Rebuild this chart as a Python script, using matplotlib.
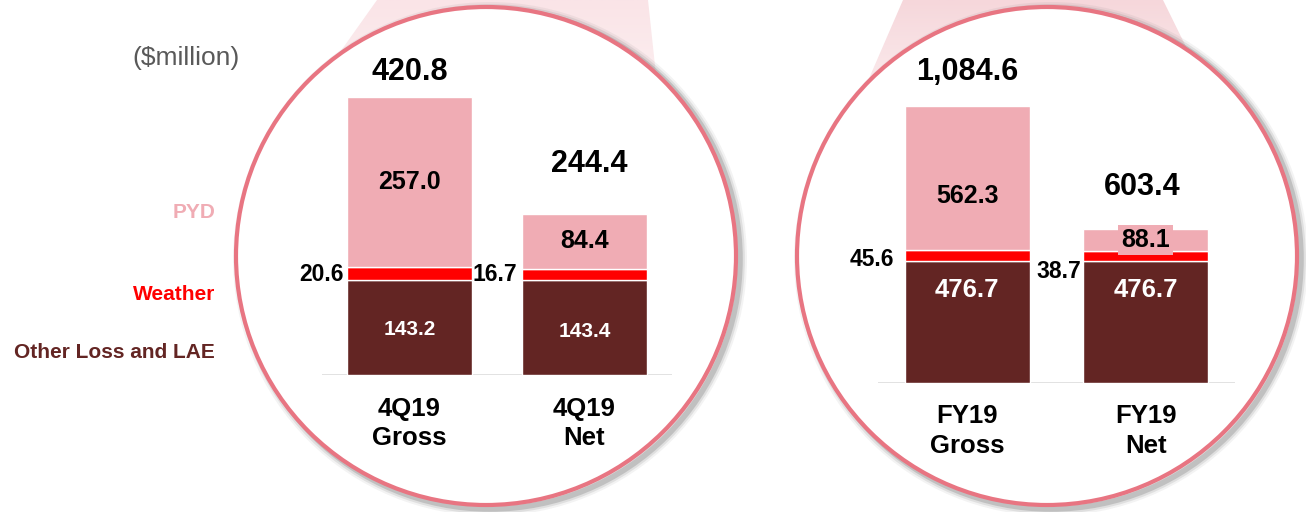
import numpy as np
import matplotlib
matplotlib.use("Agg")
import matplotlib.pyplot as plt
from matplotlib.patches import Ellipse, Polygon
from matplotlib.colors import LinearSegmentedColormap

plt.rcParams['font.family'] = ['Liberation Sans', 'DejaVu Sans']

# data
series = ["Other Loss and LAE", "Weather", "PYD"]
colors = ["#632523", "#FF0000", "#F0ACB4"]

q_cats = ["4Q19\nGross", "4Q19\nNet"]
q_other = [143.2, 143.4]
q_weather = [20.6, 16.7]
q_pyd = [257.0, 84.4]
q_total = [420.8, 244.4]

fy_cats = ["FY19\nGross", "FY19\nNet"]
fy_other = [476.7, 476.7]
fy_weather = [45.6, 38.7]
fy_pyd = [562.3, 88.1]
fy_total = [1084.6, 603.4]

W, H = 1306, 512
fig = plt.figure(figsize=(W / 100, H / 100), dpi=100)

# background layer in pixel coordinates
bg = fig.add_axes([0, 0, 1, 1])
bg.set_xlim(0, W)
bg.set_ylim(H, 0)
bg.axis("off")

for pts, c_top in (([(377, 0), (648, 0), (664, 150), (306, 100)], "#FAE4E7"),
                   ([(903, 0), (1163, 0), (1222, 120), (851, 120)], "#F6D7DB")):
    grad = LinearSegmentedColormap.from_list("g", [c_top, "#FDF4F5"])
    poly = Polygon(pts, closed=True, fc="none", ec="none")
    bg.add_patch(poly)
    xs = [p[0] for p in pts]
    img = bg.imshow(np.linspace(0, 1, 100).reshape(-1, 1), cmap=grad, aspect="auto",
                    extent=(min(xs), max(xs), 130, 0), zorder=1)
    img.set_clip_path(poly)
bg.set_xlim(0, W)
bg.set_ylim(H, 0)

for cx in (486, 1047):
    for lw, a in [(10, 0.07), (7, 0.12), (4, 0.22)]:
        bg.add_patch(Ellipse((cx + 4, 259), 500, 500, fc="none", ec="#555555",
                             lw=lw, alpha=a, zorder=2))
    bg.add_patch(Ellipse((cx, 256), 500, 498, fc="white", ec="#E87582", lw=3, zorder=3))

bg.text(186, 58, "($million)", fontsize=19, color="#595959", ha="center", va="center")
for name, col, y in zip(series, colors, [352, 295, 213]):
    bg.text(215, y, name, fontsize=15, color=col,
            fontweight="bold", ha="right", va="center")


def panel(box, ymax, cats, other, weather, pyd, total, opts):
    x0, x1, base, top = box
    ax = fig.add_axes([x0 / W, (H - base) / H, (x1 - x0) / W, (base - top) / H])
    ax.set_facecolor("none")
    x = np.arange(len(cats))
    w = opts["width"]
    b1 = np.array(other)
    b2 = b1 + np.array(weather)
    ax.bar(x, other, w, color=colors[0], ec="white", lw=1, zorder=3)
    ax.bar(x, weather, w, bottom=b1, color=colors[1], ec="white", lw=1, zorder=3)
    ax.bar(x, pyd, w, bottom=b2, color=colors[2], ec="white", lw=1, zorder=3)
    ax.set_xlim(-0.5, 1.5)
    ax.set_ylim(0, ymax)
    ax.axhline(0, color="#D9D9D9", lw=1.8, zorder=2)
    for s in ax.spines.values():
        s.set_visible(False)
    ax.set_yticks([])
    ax.set_xticks(x, cats, fontsize=18.5, fontweight="bold", linespacing=1.3)
    ax.tick_params(axis="x", length=0, pad=opts["pad"])

    for i in x:
        ax.annotate(f"{total[i]:,.1f}", (i, b2[i] + pyd[i]),
                    xytext=(opts["tot_dx"][i] * 0.72, opts["tot_dy"][i] * 0.72),
                    textcoords="offset points", ha="center", va="center",
                    fontsize=22, fontweight="bold")
        kw = {}
        if opts.get("pyd_box") == i:
            kw["bbox"] = dict(boxstyle="square,pad=0.12", fc=colors[2], ec="none")
        ax.annotate(f"{pyd[i]:.1f}", (i, b2[i] + pyd[i] / 2), xytext=(0, opts["pyd_dy"][i] * 0.72),
                    textcoords="offset points", ha="center", va="center",
                    fontsize=18, fontweight="bold", zorder=5, **kw)
        ax.annotate(f"{other[i]:.1f}", (i, other[i] / 2), xytext=(0, opts["oth_dy"][i] * 0.72),
                    textcoords="offset points", ha="center", va="center", color="white",
                    fontsize=opts["oth_fs"], fontweight="bold", zorder=5)
        ax.annotate(f"{weather[i]:.1f}", (i - w / 2, b1[i] + weather[i] / 2),
                    xytext=(-opts["wx_gap"][i] * 0.72, opts["w_dy"][i] * 0.72),
                    textcoords="offset points", ha="right", va="center",
                    fontsize=16.5, fontweight="bold", zorder=5)
    return ax


panel((322, 672, 375, 45), 500, q_cats, q_other, q_weather, q_pyd, q_total,
      dict(width=0.71, pad=15.5, tot_dx=[0, 5], tot_dy=[25, 50], pyd_dy=[0, 0],
           oth_dy=[-2, -4], oth_fs=15, wx_gap=[4, 5], w_dy=[-1, 0]))
panel((878, 1235, 383, 51), 1300, fy_cats, fy_other, fy_weather, fy_pyd, fy_total,
      dict(width=0.70, pad=15, tot_dx=[0, -4], tot_dy=[34, 42], pyd_dy=[-18, 0],
           oth_dy=[32, 32], oth_fs=18.5, wx_gap=[11, 2], w_dy=[-4, -15], pyd_box=1))

fig.savefig("out.png", dpi=100)
